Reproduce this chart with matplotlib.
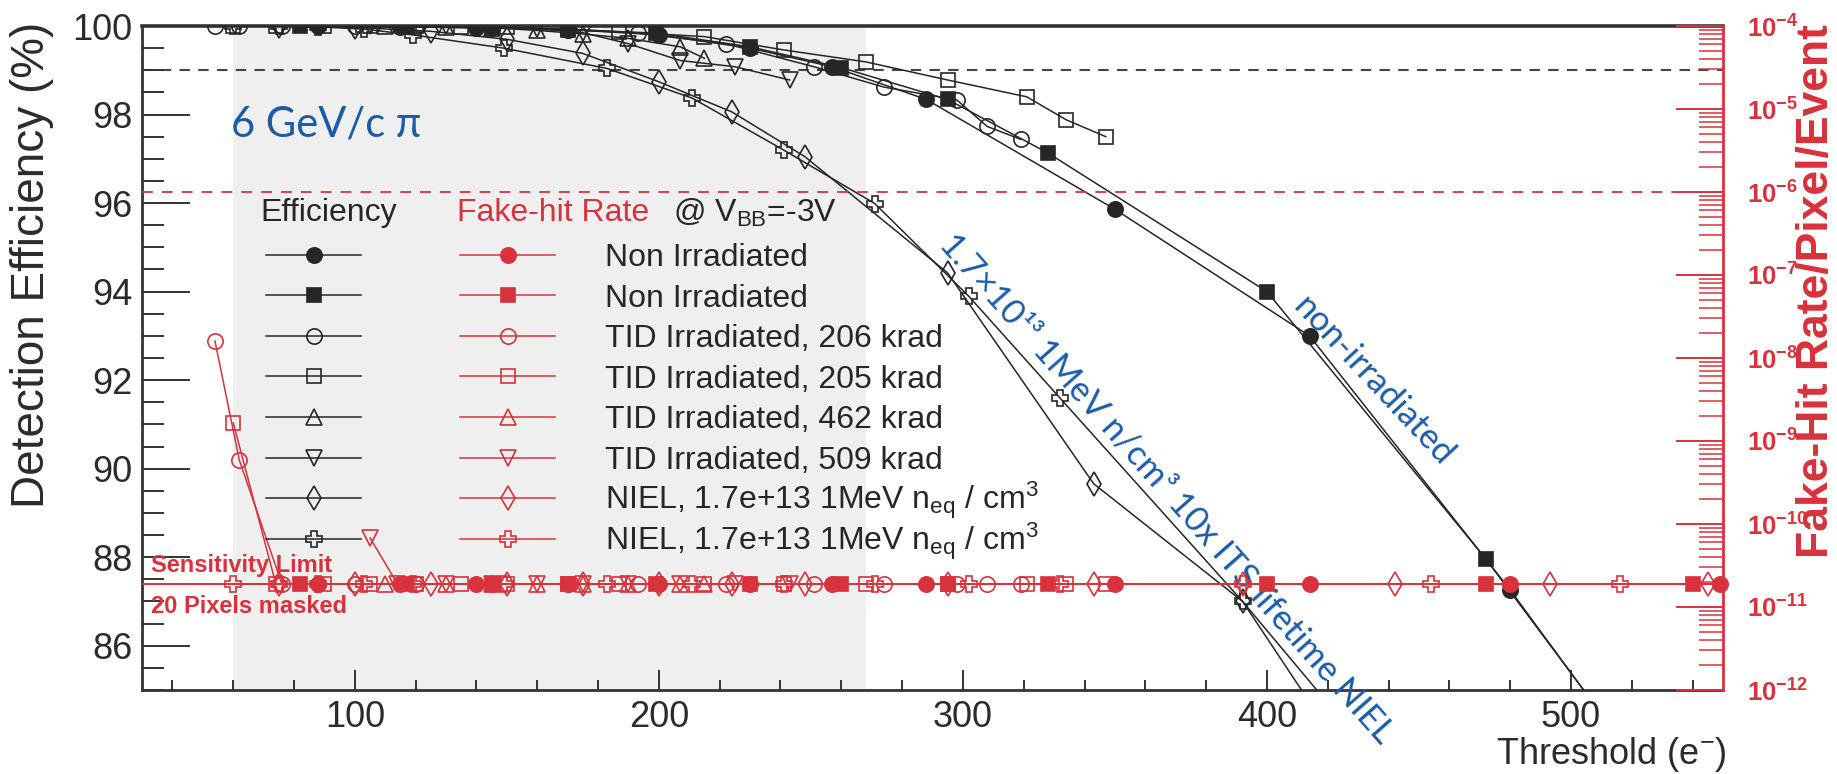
import matplotlib
matplotlib.use('Agg')
import matplotlib.pyplot as plt
from matplotlib import font_manager
from matplotlib.legend_handler import HandlerTuple
from matplotlib.ticker import MultipleLocator, LogLocator, NullFormatter

plt.rcParams['font.family'] = ['Liberation Sans', 'DejaVu Sans']
plt.rcParams['mathtext.default'] = 'regular'


def has_font(name):
    try:
        font_manager.findfont(font_manager.FontProperties(family=name), fallback_to_default=False)
        return True
    except Exception:
        return False


NARROW = has_font('Liberation Sans Narrow')

RED = '#d8323c'
BLACK = '#262626'
BLUE = '#1a5ca8'
GRAY = '#efefef'

# ---------------- data ----------------
labels = ['Non Irradiated', 'Non Irradiated',
          'TID Irradiated, 206 krad', 'TID Irradiated, 205 krad',
          'TID Irradiated, 462 krad', 'TID Irradiated, 509 krad',
          'NIEL, 1.7e+13 1MeV n$_{eq}$ / cm$^{3}$',
          'NIEL, 1.7e+13 1MeV n$_{eq}$ / cm$^{3}$']

thr_a = [88, 115, 140, 170, 200, 230, 257, 288, 350, 414, 480, 549]
eff_a = [99.99, 99.98, 99.96, 99.92, 99.8, 99.5, 99.08, 98.34, 95.86, 93.0, 87.26, 80.8]
fhr_a = [1.9e-11, 1.9e-11, 1.9e-11, 1.9e-11, 1.9e-11, 1.9e-11, 1.9e-11, 1.9e-11,
         1.9e-11, 1.9e-11, 1.9e-11, 1.9e-11]

thr_b = [82, 117, 145, 170, 199, 230, 260, 295, 328, 400, 472, 540]
eff_b = [99.99, 99.98, 99.96, 99.92, 99.84, 99.53, 99.06, 98.34, 97.13, 94.0, 87.96, 81.7]
fhr_b = [1.9e-11, 1.9e-11, 1.9e-11, 1.9e-11, 1.9e-11, 1.9e-11, 1.9e-11, 1.9e-11,
         1.9e-11, 1.9e-11, 1.9e-11, 1.9e-11]

thr_c = [54, 62, 76, 100, 120, 145, 170, 193, 222, 251, 274, 298, 308, 319]
eff_c = [100, 100, 100, 99.99, 99.98, 99.96, 99.92, 99.84, 99.6, 99.08, 98.62, 98.33, 97.73, 97.44]
fhr_c = [1.6e-8, 5.9e-10, 1.9e-11, 1.9e-11, 1.9e-11, 1.9e-11, 1.9e-11, 1.9e-11,
         1.9e-11, 1.9e-11, 1.9e-11, 1.9e-11, 1.9e-11, 1.9e-11]

thr_d = [60, 74, 90, 105, 120, 135, 150, 170, 187, 215, 241, 268, 295, 321, 334, 347]
eff_d = [100, 100, 100, 100, 99.99, 99.98, 99.97, 99.93, 99.87, 99.76, 99.46, 99.19,
         98.78, 98.40, 97.88, 97.50]
fhr_d = [1.66e-9, 1.9e-11, 1.9e-11, 1.9e-11, 1.9e-11, 1.9e-11, 1.9e-11, 1.9e-11,
         1.9e-11, 1.9e-11, 1.9e-11, 1.9e-11, 1.9e-11, 1.9e-11, 1.9e-11, 1.9e-11]

thr_e = [110, 130, 145, 160, 175, 190, 207, 215]
eff_e = [100, 99.98, 99.96, 99.9, 99.82, 99.72, 99.53, 99.27]
fhr_e = [1.9e-11, 1.9e-11, 1.9e-11, 1.9e-11, 1.9e-11, 1.9e-11, 1.9e-11, 1.9e-11]

thr_f = [105, 114, 130, 145, 160, 175, 190, 207, 225, 243]
eff_f = [100, 100, 99.99, 99.97, 99.93, 99.85, 99.6, 99.22, 99.08, 98.78]
fhr_f = [6.8e-11, 1.9e-11, 1.9e-11, 1.9e-11, 1.9e-11, 1.9e-11, 1.9e-11, 1.9e-11,
         1.9e-11, 1.9e-11]

thr_g = [75, 100, 125, 150, 175, 200, 224, 248, 295, 343, 392, 442, 493, 545]
eff_g = [100, 99.97, 99.88, 99.7, 99.38, 98.74, 98.06, 97.05, 94.42, 89.66, 87.0, 82.9, 78.5, 74.0]
fhr_g = [1.9e-11, 1.9e-11, 1.9e-11, 1.9e-11, 1.9e-11, 1.9e-11, 1.9e-11, 1.9e-11,
         1.9e-11, 1.9e-11, 1.9e-11, 1.9e-11, 1.9e-11, 1.9e-11]

thr_h = [60, 75, 88, 103, 119, 149, 183, 211, 241, 271, 302, 332, 392, 454, 516]
eff_h = [100, 100, 99.98, 99.93, 99.8, 99.5, 99.04, 98.37, 97.2, 95.99, 93.89, 91.59, 87.0, 80.6, 74.5]
fhr_h = [1.9e-11, 1.9e-11, 1.9e-11, 1.9e-11, 1.9e-11, 1.9e-11, 1.9e-11, 1.9e-11,
         1.9e-11, 1.9e-11, 1.9e-11, 1.9e-11, 1.9e-11, 1.9e-11, 1.9e-11]

thresholds = [thr_a, thr_b, thr_c, thr_d, thr_e, thr_f, thr_g, thr_h]
efficiencies = [eff_a, eff_b, eff_c, eff_d, eff_e, eff_f, eff_g, eff_h]
fake_rates = [fhr_a, fhr_b, fhr_c, fhr_d, fhr_e, fhr_f, fhr_g, fhr_h]
markers = ['o', 's', 'o', 's', '^', 'v', 'd', 'P']
filled = [True, True, False, False, False, False, False, False]
msizes = [11, 10.5, 11, 10.5, 11, 11, 12, 12]

x_range = [30, 550]
eff_range = [85, 100]
fhr_range = [1e-12, 1e-4]
right_tick_exponents = [-12, -11, -10, -9, -8, -7, -6, -5, -4]
band = [60, 268]
eff_ref = 99
fhr_ref = 1e-6
sens_limit = 1.9e-11

# ---------------- figure ----------------
W, H = 1837, 774
fig = plt.figure(figsize=(W / 100, H / 100), dpi=100)
L, R, T, B = 142, 1723, 26, 690
ax = fig.add_axes([L / W, 1 - B / H, (R - L) / W, (B - T) / H])
ax2 = ax.twinx()

ax.set_xlim(*x_range)
ax.set_ylim(*eff_range)
ax2.set_yscale('log')
ax2.set_ylim(*fhr_range)

ax.axvspan(band[0], band[1], color=GRAY, lw=0, zorder=0)
ax.axhline(eff_ref, color='#444444', lw=1.5, ls=(0, (5, 4)), zorder=1)
ax2.axhline(fhr_ref, color=RED, lw=1.3, ls=(0, (6, 5)), zorder=1)
ax2.axhline(sens_limit, color=RED, lw=1.4, zorder=2)

eff_lines, fhr_lines = [], []
for thr, eff, fhr, m, f, ms in zip(thresholds, efficiencies, fake_rates, markers, filled, msizes):
    le, = ax.plot(thr, eff, color=BLACK, lw=1.1, marker=m, ms=ms,
                  mfc=BLACK if f else 'none', mec=BLACK, mew=1.2, zorder=3)
    lr, = ax2.plot(thr, fhr, color=RED, lw=1.1, marker=m, ms=ms,
                   mfc=RED if f else 'none', mec=RED, mew=1.2, zorder=4, clip_on=False)
    eff_lines.append(le)
    fhr_lines.append(lr)

# ---------------- axes styling ----------------
for s in ['left', 'bottom', 'top']:
    ax.spines[s].set_color('#333333')
    ax.spines[s].set_linewidth(2)
ax.spines['top'].set_linewidth(2.6)
ax.spines['right'].set_visible(False)
for s in ['left', 'bottom', 'top']:
    ax2.spines[s].set_visible(False)
ax2.spines['right'].set_color(RED)
ax2.spines['right'].set_linewidth(2)

ax.xaxis.set_major_locator(MultipleLocator(100))
ax.xaxis.set_minor_locator(MultipleLocator(20))
ax.yaxis.set_major_locator(MultipleLocator(2))
ax.yaxis.set_minor_locator(MultipleLocator(0.5))
ax.tick_params(which='both', direction='in', top=False, right=False, color='#333333',
               labelcolor='#2b2b2b')
ax.tick_params(axis='y', which='major', length=34.5, width=1.4, labelsize=26, pad=7)
ax.tick_params(axis='y', which='minor', length=16, width=1.4)
ax.tick_params(axis='x', which='major', length=14.4, width=1.4, labelsize=26, pad=7)
ax.tick_params(axis='x', which='minor', length=7.2, width=1.4)

tick_family = ['Liberation Sans Narrow', 'Liberation Sans'] if NARROW else ['Liberation Sans']
tick_size = 21 if NARROW else 18.5
ax2.set_yticks([10.0 ** e for e in right_tick_exponents],
               ['10$^{%d}$' % e for e in right_tick_exponents],
               fontweight='bold', fontfamily=tick_family, fontsize=tick_size)
ax2.yaxis.set_minor_locator(LogLocator(base=10, subs=range(2, 10), numticks=100))
ax2.yaxis.set_minor_formatter(NullFormatter())
ax2.tick_params(axis='y', which='both', direction='in', color=RED, labelcolor=RED)
ax2.tick_params(axis='y', which='major', length=34, width=1.4, pad=17)
ax2.tick_params(axis='y', which='minor', length=17, width=1.1)

# ---------------- texts ----------------
fig.text(32 / W, 1 - 22 / H, 'Detection Efficiency (%)', rotation=90, ha='center', va='top',
         fontsize=33, color='#2b2b2b')
fig.text(1.0, 1 - 24 / H, 'Fake-Hit Rate/Pixel/Event', rotation=90, ha='right', va='top',
         fontsize=32, color=RED, fontweight='bold')
fig.text(1727 / W, 1 - 755 / H, 'Threshold (e$^{-}$)', ha='right', va='center', fontsize=26,
         color='#2b2b2b')

blue_font = ['Lato', 'DejaVu Sans']
ax.text(0.0563, 0.851, '6 GeV/c π', transform=ax.transAxes, color=BLUE, fontsize=30,
        fontfamily=blue_font, ha='left', va='center')
ax.text(367, 89.55, '1.7×10¹³ 1MeV n/cm³ 10x ITS lifetime NIEL', rotation=-48.5,
        rotation_mode='anchor', ha='center', va='center', color=BLUE, fontsize=25,
        fontfamily=blue_font, zorder=5)
ax.text(435, 91.98, 'non-irradiated', rotation=-47, rotation_mode='anchor', ha='center',
        va='center', color=BLUE, fontsize=25, fontfamily=blue_font, zorder=5)

ax.text(0.006, 0.188, 'Sensitivity Limit', transform=ax.transAxes, color=RED,
        fontweight='bold', fontsize=17, va='center', ha='left', zorder=6)
ax.text(0.006, 0.1265, '20 Pixels masked', transform=ax.transAxes, color=RED,
        fontweight='bold', fontsize=17, va='center', ha='left', zorder=6)

fig.text(329 / W, 1 - 213 / H, 'Efficiency', ha='center', va='center', fontsize=23, color=BLACK)
fig.text(457 / W, 1 - 213 / H, 'Fake-hit Rate', ha='left', va='center', fontsize=23, color=RED)
fig.text(673 / W, 1 - 213 / H, '@ V$_{BB}$=-3V', ha='left', va='center', fontsize=23, color=BLACK)

# legend: paired handles (efficiency | fake-hit rate); labels placed on each row's baseline
LEG_FS = 23
leg = ax2.legend(handles=[(a, b) for a, b in zip(eff_lines, fhr_lines)],
                 labels=[' '] * len(labels),
                 handler_map={tuple: HandlerTuple(ndivide=None, pad=3.1)},
                 handlelength=9.05, handletextpad=1.57, labelspacing=0.33, numpoints=1,
                 frameon=False, fontsize=LEG_FS, loc='upper left', borderpad=0, borderaxespad=0,
                 bbox_to_anchor=(266 / W, 1 - 243 / H), bbox_transform=fig.transFigure)
leg.set_zorder(10)

fig.canvas.draw()
renderer = fig.canvas.get_renderer()
for txt, lab in zip(leg.get_texts(), labels):
    bb = txt.get_window_extent(renderer)
    _, _, d = renderer.get_text_width_height_descent('lp', txt.get_fontproperties(), ismath=False)
    fig.text(605 / W, (bb.y0 + d) / fig.bbox.height, lab, ha='left', va='baseline',
             fontsize=LEG_FS, color=BLACK)

fig.savefig('out.png', dpi=100)
